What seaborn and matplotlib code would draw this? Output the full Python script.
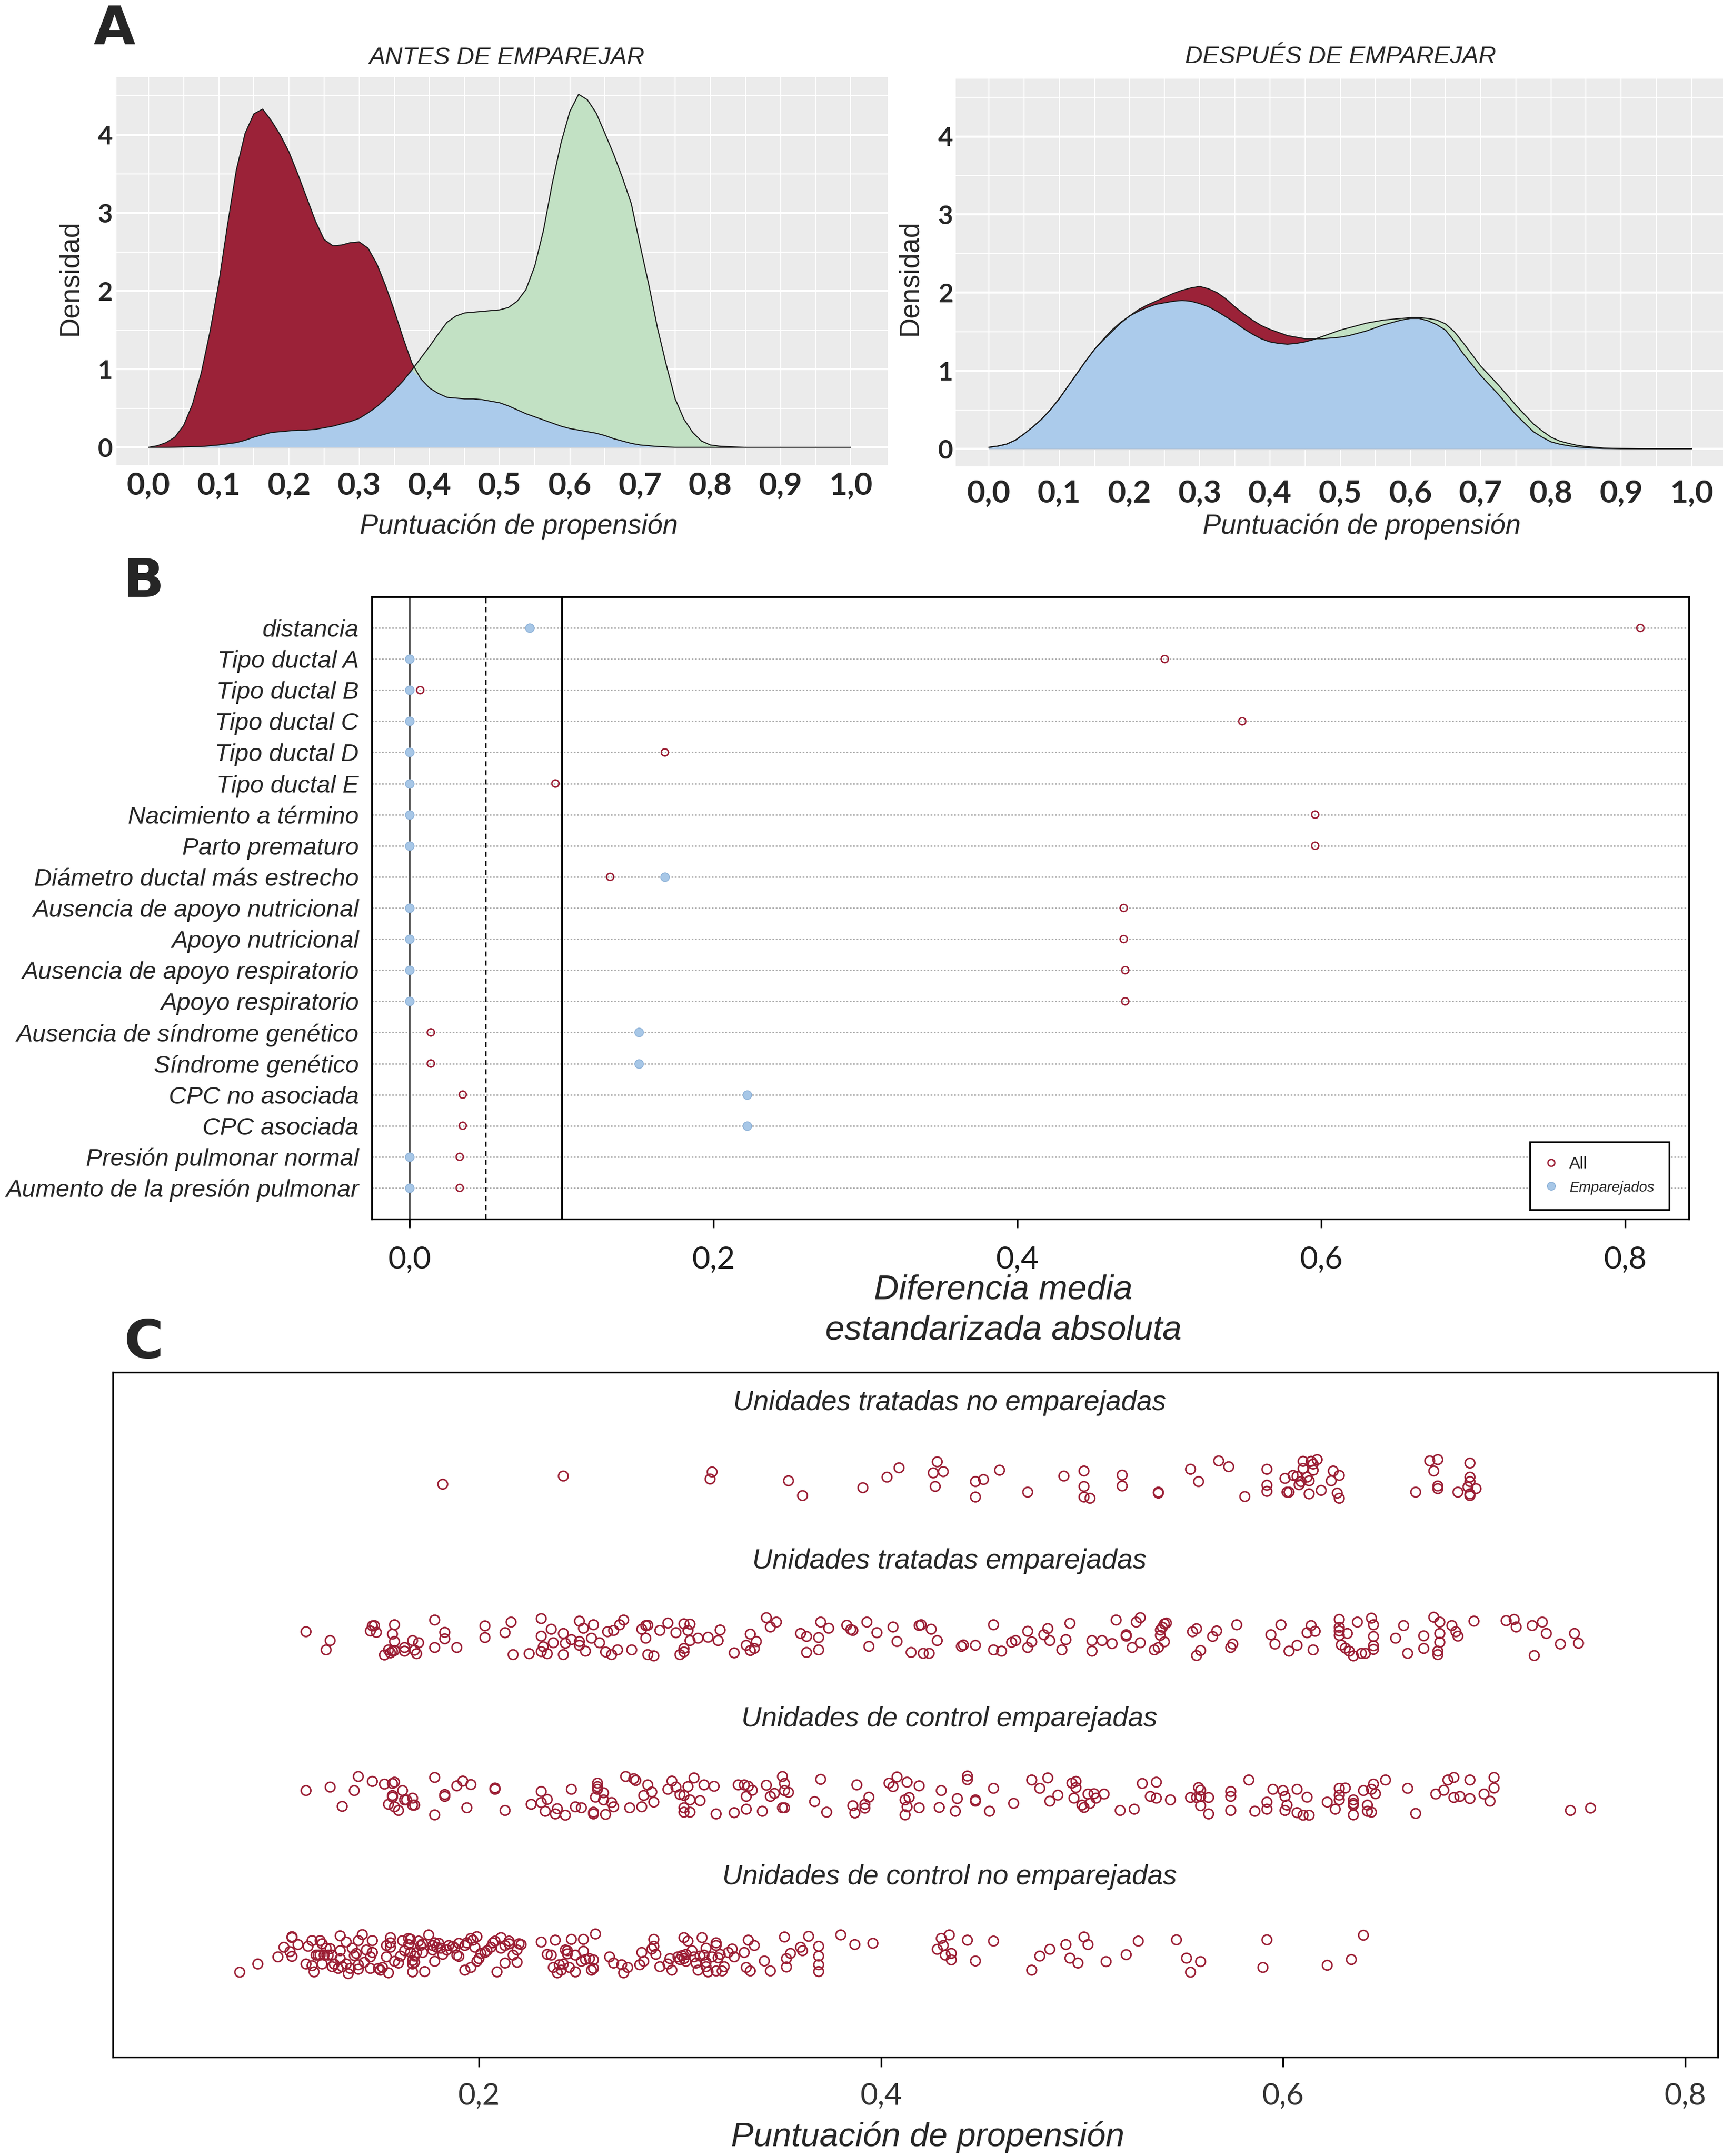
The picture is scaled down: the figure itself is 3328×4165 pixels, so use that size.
import numpy as np
import pandas as pd
import matplotlib
matplotlib.use("Agg")
import matplotlib.pyplot as plt
import seaborn as sns
from matplotlib.lines import Line2D

# ======================= DATA =======================
# Panel A: density curves
dens_x = [0.0, 0.0125, 0.025, 0.0375, 0.05, 0.0625, 0.075, 0.0875, 0.1, 0.1125,
          0.125, 0.1375, 0.15, 0.1625, 0.175, 0.1875, 0.2, 0.2125, 0.225, 0.2375,
          0.25, 0.2625, 0.275, 0.2875, 0.3, 0.3125, 0.325, 0.3375, 0.35, 0.3625,
          0.375, 0.3875, 0.4, 0.4125, 0.425, 0.4375, 0.45, 0.4625, 0.475, 0.4875,
          0.5, 0.5125, 0.525, 0.5375, 0.55, 0.5625, 0.575, 0.5875, 0.6, 0.6125,
          0.625, 0.6375, 0.65, 0.6625, 0.675, 0.6875, 0.7, 0.7125, 0.725, 0.7375,
          0.75, 0.7625, 0.775, 0.7875, 0.8, 0.8125, 0.825, 0.8375, 0.85,
          0.875, 0.9, 0.925, 0.95, 0.975, 1.0]
antes_control = [0.00, 0.02, 0.06, 0.13, 0.28, 0.55, 0.95, 1.48, 2.10, 2.85,
                 3.55, 4.02, 4.27, 4.33, 4.18, 4.00, 3.78, 3.50, 3.20, 2.90,
                 2.66, 2.58, 2.59, 2.62, 2.63, 2.55, 2.35, 2.07, 1.75, 1.40,
                 1.08, 0.88, 0.76, 0.69, 0.64, 0.63, 0.62, 0.62, 0.61, 0.59,
                 0.57, 0.53, 0.48, 0.43, 0.39, 0.35, 0.31, 0.27, 0.24, 0.22,
                 0.20, 0.18, 0.15, 0.11, 0.08, 0.05, 0.03, 0.02, 0.01, 0.005,
                 0.0, 0.0, 0.0, 0.0, 0.0, 0.0, 0.0, 0.0, 0.0,
                 0.0, 0.0, 0.0, 0.0, 0.0, 0.0]
antes_tratado = [0.00, 0.00, 0.00, 0.002, 0.005, 0.008, 0.01, 0.02, 0.03, 0.045,
                 0.06, 0.09, 0.13, 0.16, 0.19, 0.20, 0.21, 0.22, 0.22, 0.23,
                 0.25, 0.27, 0.30, 0.33, 0.37, 0.44, 0.52, 0.62, 0.73, 0.85,
                 0.99, 1.14, 1.29, 1.45, 1.60, 1.68, 1.72, 1.73, 1.74, 1.75,
                 1.76, 1.79, 1.87, 2.02, 2.32, 2.78, 3.38, 3.90, 4.30, 4.52,
                 4.45, 4.28, 4.02, 3.75, 3.45, 3.12, 2.59, 2.08, 1.52, 1.05,
                 0.62, 0.36, 0.19, 0.08, 0.03, 0.015, 0.008, 0.004, 0.0,
                 0.0, 0.0, 0.0, 0.0, 0.0, 0.0]
despues_control = [0.02, 0.035, 0.06, 0.11, 0.19, 0.28, 0.38, 0.50, 0.64, 0.80,
                   0.96, 1.12, 1.27, 1.39, 1.50, 1.61, 1.70, 1.78, 1.84, 1.89,
                   1.94, 1.99, 2.03, 2.06, 2.08, 2.05, 2.00, 1.92, 1.82, 1.73,
                   1.65, 1.58, 1.53, 1.49, 1.45, 1.43, 1.41, 1.41, 1.41, 1.42,
                   1.43, 1.45, 1.48, 1.51, 1.55, 1.59, 1.62, 1.65, 1.67, 1.67,
                   1.64, 1.59, 1.52, 1.38, 1.22, 1.08, 0.94, 0.82, 0.70, 0.57,
                   0.44, 0.33, 0.22, 0.15, 0.09, 0.06, 0.04, 0.025, 0.015,
                   0.005, 0.002, 0.0, 0.0, 0.0, 0.0]
despues_tratado = [0.02, 0.035, 0.06, 0.11, 0.19, 0.28, 0.38, 0.50, 0.64, 0.80,
                   0.96, 1.12, 1.27, 1.40, 1.52, 1.62, 1.70, 1.76, 1.81, 1.85,
                   1.87, 1.89, 1.90, 1.89, 1.86, 1.82, 1.76, 1.69, 1.62, 1.54,
                   1.47, 1.41, 1.37, 1.35, 1.34, 1.35, 1.37, 1.40, 1.44, 1.48,
                   1.52, 1.55, 1.58, 1.61, 1.63, 1.65, 1.66, 1.67, 1.68, 1.68,
                   1.67, 1.65, 1.60, 1.50, 1.36, 1.21, 1.06, 0.94, 0.82, 0.69,
                   0.56, 0.44, 0.32, 0.23, 0.15, 0.10, 0.07, 0.045, 0.03,
                   0.01, 0.004, 0.001, 0.0, 0.0, 0.0]
dens_xticks = [0.0, 0.1, 0.2, 0.3, 0.4, 0.5, 0.6, 0.7, 0.8, 0.9, 1.0]
dens_xticklabels = ["0,0", "0,1", "0,2", "0,3", "0,4", "0,5", "0,6", "0,7", "0,8", "0,9", "1,0"]
dens_yticks = [0, 1, 2, 3, 4]
dens_yticklabels = ["0", "1", "2", "3", "4"]

# Panel B: absolute standardized mean differences
smd_vars = ["distancia", "Tipo ductal A", "Tipo ductal B", "Tipo ductal C", "Tipo ductal D",
            "Tipo ductal E", "Nacimiento a término", "Parto prematuro",
            "Diámetro ductal más estrecho", "Ausencia de apoyo nutricional",
            "Apoyo nutricional", "Ausencia de apoyo respiratorio", "Apoyo respiratorio",
            "Ausencia de síndrome genético", "Síndrome genético", "CPC no asociada",
            "CPC asociada", "Presión pulmonar normal", "Aumento de la presión pulmonar"]
smd_all = [0.810, 0.497, 0.007, 0.548, 0.168, 0.096, 0.596, 0.596, 0.132, 0.470,
           0.470, 0.471, 0.471, 0.014, 0.014, 0.035, 0.035, 0.033, 0.033]
smd_matched = [0.079, 0.0, 0.0, 0.0, 0.0, 0.0, 0.0, 0.0, 0.168, 0.0,
               0.0, 0.0, 0.0, 0.151, 0.151, 0.222, 0.222, 0.0, 0.0]
smd_xticks = [0.0, 0.2, 0.4, 0.6, 0.8]
smd_xticklabels = ["0,0", "0,2", "0,4", "0,6", "0,8"]
smd_legend = ["All", "Emparejados"]

# Panel C: jitter plot, (propensity score, vertical jitter) pairs
jit_titles = ["Unidades tratadas no emparejadas", "Unidades tratadas emparejadas",
              "Unidades de control emparejadas", "Unidades de control no emparejadas"]
jit_tratadas_no_emp = [
    (0.182, -0.029), (0.242, 0.023), (0.316, 0.049), (0.315, 0.004), (0.354, -0.007), (0.361, -0.101),
    (0.391, -0.051), (0.403, 0.016), (0.409, 0.075), (0.428, 0.113), (0.426, 0.043), (0.431, 0.051),
    (0.427, -0.043), (0.447, -0.012), (0.451, 0.001), (0.447, -0.110), (0.459, 0.060), (0.473, -0.079),
    (0.491, 0.023), (0.501, 0.055), (0.501, -0.043), (0.501, -0.110), (0.504, -0.118), (0.520, 0.029),
    (0.520, -0.040), (0.538, -0.079), (0.538, -0.085), (0.554, 0.066), (0.558, -0.012), (0.568, 0.119),
    (0.573, 0.082), (0.581, -0.107), (0.592, 0.066), (0.592, -0.035), (0.592, -0.074), (0.601, 0.008),
    (0.602, -0.079), (0.603, -0.079), (0.605, 0.027), (0.607, 0.021), (0.608, -0.032), (0.609, -0.012),
    (0.610, 0.116), (0.610, 0.071), (0.612, 0.016), (0.613, -0.007), (0.613, -0.090), (0.614, 0.116),
    (0.615, 0.099), (0.615, 0.060), (0.617, 0.127), (0.619, -0.068), (0.624, -0.007), (0.625, 0.055),
    (0.627, -0.085), (0.628, 0.027), (0.628, -0.118), (0.666, -0.079), (0.673, 0.119), (0.677, 0.127),
    (0.675, 0.055), (0.677, -0.040), (0.677, -0.057), (0.687, -0.079), (0.693, 0.105), (0.693, 0.016),
    (0.693, -0.012), (0.692, -0.046), (0.693, -0.090), (0.696, -0.057), (0.693, -0.101)]
jit_tratadas_emp = [
    (0.114, 0.037), (0.126, -0.019), (0.124, -0.078), (0.146, 0.042), (0.147, 0.074), (0.148, 0.076),
    (0.149, 0.033), (0.157, 0.022), (0.158, 0.081), (0.158, -0.025), (0.155, -0.078), (0.153, -0.110),
    (0.156, -0.097), (0.157, -0.086), (0.158, -0.082), (0.163, -0.063), (0.163, -0.086), (0.167, -0.019),
    (0.168, -0.080), (0.169, -0.102), (0.170, -0.033), (0.178, 0.111), (0.178, -0.063), (0.183, 0.033),
    (0.183, -0.008), (0.189, -0.063), (0.203, 0.074), (0.203, 0.000), (0.213, 0.031), (0.216, 0.098),
    (0.217, -0.108), (0.225, -0.102), (0.231, 0.120), (0.231, 0.009), (0.232, -0.058), (0.231, -0.089),
    (0.234, -0.102), (0.236, 0.053), (0.237, -0.033), (0.242, 0.026), (0.242, -0.108), (0.243, -0.036),
    (0.246, -0.013), (0.250, 0.104), (0.250, -0.025), (0.250, -0.049), (0.252, 0.059), (0.253, -0.086),
    (0.257, 0.081), (0.256, -0.004), (0.260, -0.033), (0.263, -0.091), (0.264, 0.037), (0.266, -0.108),
    (0.267, 0.045), (0.269, -0.078), (0.270, 0.081), (0.272, 0.111), (0.276, -0.078), (0.281, 0.053),
    (0.283, -0.004), (0.283, 0.076), (0.284, 0.078), (0.284, -0.108), (0.287, -0.116), (0.290, 0.045),
    (0.294, 0.092), (0.298, 0.031), (0.300, -0.108), (0.302, -0.069), (0.302, -0.091), (0.302, 0.087),
    (0.305, 0.085), (0.304, 0.045), (0.305, -0.019), (0.309, -0.004), (0.314, 0.002), (0.319, -0.019),
    (0.320, 0.048), (0.327, -0.097), (0.333, -0.049), (0.335, 0.022), (0.335, -0.082), (0.337, -0.069),
    (0.338, -0.025), (0.343, 0.126), (0.345, 0.067), (0.348, 0.098), (0.360, 0.026), (0.363, 0.007),
    (0.363, -0.094), (0.369, 0.000), (0.369, -0.078), (0.370, 0.098), (0.374, 0.059), (0.383, 0.078),
    (0.385, 0.051), (0.386, 0.045), (0.394, -0.056), (0.393, 0.098), (0.398, 0.031), (0.406, 0.067),
    (0.408, -0.025), (0.415, -0.094), (0.419, 0.076), (0.420, 0.081), (0.421, -0.100), (0.424, -0.100),
    (0.425, 0.053), (0.428, -0.019), (0.440, -0.056), (0.441, -0.047), (0.447, -0.049), (0.456, 0.081),
    (0.456, -0.078), (0.460, -0.086),
    (0.465, -0.030), (0.467, -0.019), (0.473, 0.040), (0.473, -0.063), (0.475, -0.027), (0.481, 0.018),
    (0.483, 0.057), (0.484, -0.019), (0.490, -0.078), (0.492, -0.013), (0.494, 0.090), (0.505, -0.019),
    (0.505, -0.086), (0.510, -0.019), (0.515, -0.038), (0.517, 0.111), (0.522, 0.018), (0.522, 0.009),
    (0.525, -0.063), (0.527, 0.098), (0.529, 0.126), (0.529, -0.033), (0.536, -0.078), (0.538, -0.063),
    (0.539, 0.014), (0.539, 0.048), (0.540, 0.065), (0.541, 0.087), (0.542, 0.092), (0.541, -0.027),
    (0.555, 0.037), (0.557, 0.056), (0.557, -0.114), (0.559, -0.082), (0.565, 0.007), (0.567, 0.042),
    (0.574, -0.063), (0.575, -0.041), (0.577, 0.081), (0.594, 0.018), (0.596, -0.041), (0.599, 0.081),
    (0.603, -0.086), (0.607, -0.049), (0.612, 0.031), (0.614, 0.076), (0.615, -0.078), (0.616, 0.040),
    (0.628, 0.115), (0.628, 0.065), (0.628, 0.042), (0.628, 0.014), (0.629, -0.047), (0.631, -0.067),
    (0.632, 0.026), (0.633, -0.086), (0.635, -0.116), (0.637, 0.098), (0.639, -0.100), (0.641, -0.100),
    (0.644, 0.123), (0.645, 0.081), (0.645, 0.007), (0.645, -0.052), (0.645, -0.075), (0.656, -0.004),
    (0.660, 0.076), (0.662, -0.100), (0.670, 0.011), (0.670, -0.069), (0.675, 0.129), (0.677, -0.086),
    (0.677, -0.108), (0.678, 0.098), (0.678, 0.026), (0.678, -0.030), (0.684, 0.076), (0.686, 0.037),
    (0.687, 0.009), (0.695, 0.104), (0.711, 0.107), (0.715, 0.115), (0.716, 0.067), (0.724, 0.076),
    (0.725, -0.114), (0.729, 0.098), (0.731, 0.026), (0.738, -0.041), (0.745, 0.026), (0.747, -0.036)]
jit_control_emp = [
    (0.114, 0.031), (0.126, 0.053), (0.132, -0.069), (0.138, 0.031), (0.140, 0.120), (0.147, 0.089),
    (0.153, 0.072), (0.155, -0.056), (0.157, 0.076), (0.157, 0.000), (0.157, -0.011), (0.158, 0.084),
    (0.158, -0.072), (0.160, -0.095), (0.162, 0.031), (0.163, -0.028), (0.164, -0.028), (0.167, -0.017),
    (0.167, -0.061), (0.168, -0.061), (0.178, 0.114), (0.178, -0.123), (0.183, 0.006), (0.183, -0.006),
    (0.189, 0.061), (0.192, 0.091), (0.194, -0.078), (0.196, 0.069), (0.208, 0.039), (0.208, 0.047),
    (0.213, -0.095), (0.226, -0.056), (0.231, 0.025), (0.231, -0.045), (0.234, -0.025), (0.233, -0.100),
    (0.238, -0.117), (0.239, -0.084), (0.243, -0.125), (0.246, 0.039), (0.248, -0.072), (0.251, -0.078),
    (0.257, -0.106), (0.257, -0.117), (0.259, 0.078), (0.259, 0.056), (0.259, 0.039), (0.262, 0.017),
    (0.263, -0.120), (0.258, -0.011), (0.262, -0.028), (0.266, -0.045), (0.267, -0.072), (0.273, 0.120),
    (0.277, 0.106), (0.278, 0.095), (0.275, -0.078), (0.281, -0.072), (0.282, 0.000), (0.284, 0.067),
    (0.286, 0.022), (0.287, -0.042), (0.294, 0.039), (0.296, 0.091), (0.298, 0.053), (0.300, 0.006),
    (0.302, 0.000), (0.302, -0.078), (0.302, -0.106), (0.304, 0.056), (0.305, -0.028), (0.305, -0.106),
    (0.307, 0.111), (0.310, -0.033), (0.312, 0.067), (0.317, 0.058), (0.318, -0.117), (0.327, -0.109),
    (0.329, 0.067), (0.332, 0.067), (0.334, 0.058), (0.336, 0.033), (0.333, -0.006), (0.333, -0.087),
    (0.341, -0.100), (0.343, 0.065), (0.345, -0.006), (0.347, 0.013), (0.351, 0.120), (0.352, 0.076),
    (0.352, 0.031), (0.354, 0.020), (0.351, -0.078), (0.352, -0.078), (0.367, -0.039), (0.370, 0.102),
    (0.373, -0.106), (0.386, -0.065), (0.388, 0.067), (0.387, -0.111), (0.392, -0.056), (0.392, -0.080),
    (0.394, -0.011), (0.404, 0.078), (0.406, 0.056), (0.408, 0.117), (0.413, 0.084), (0.412, -0.028),
    (0.414, -0.013), (0.413, -0.072), (0.412, -0.123), (0.419, 0.061), (0.419, -0.078), (0.429, -0.076),
    (0.430, 0.031),
    (0.437, -0.100), (0.438, -0.020), (0.443, 0.123), (0.443, 0.100), (0.447, -0.028), (0.447, -0.036),
    (0.454, -0.100), (0.456, 0.045), (0.466, -0.050), (0.475, 0.098), (0.479, 0.045), (0.483, 0.111),
    (0.484, -0.036), (0.488, 0.002), (0.496, -0.017), (0.495, 0.078), (0.497, 0.089), (0.497, 0.050),
    (0.500, -0.061), (0.501, -0.076), (0.504, -0.050), (0.503, 0.009), (0.506, 0.011), (0.507, -0.017),
    (0.511, 0.009), (0.519, -0.095), (0.526, -0.087), (0.530, 0.076), (0.534, -0.006), (0.537, 0.084),
    (0.537, -0.017), (0.544, -0.028), (0.554, -0.013), (0.557, -0.013), (0.558, 0.050), (0.559, 0.033),
    (0.559, -0.006), (0.559, -0.065), (0.563, -0.013), (0.563, -0.117), (0.574, -0.006), (0.574, 0.025),
    (0.574, -0.095), (0.583, 0.098), (0.586, -0.100), (0.592, -0.042), (0.592, -0.087), (0.595, 0.039),
    (0.600, 0.031), (0.601, -0.095), (0.601, -0.006), (0.602, -0.061), (0.607, 0.039), (0.607, -0.109),
    (0.610, -0.125), (0.613, -0.125), (0.612, -0.011), (0.622, -0.042), (0.626, -0.087), (0.628, 0.002),
    (0.628, -0.028), (0.628, 0.045), (0.631, 0.047), (0.635, -0.028), (0.635, -0.061), (0.635, -0.050),
    (0.635, -0.123), (0.640, 0.031), (0.642, -0.061), (0.642, -0.100), (0.644, -0.106), (0.644, 0.039),
    (0.645, 0.072), (0.646, 0.011), (0.651, 0.098), (0.662, 0.045), (0.666, -0.114), (0.676, 0.009),
    (0.680, 0.033), (0.682, 0.098), (0.685, 0.114), (0.685, -0.013), (0.688, -0.006), (0.693, 0.098),
    (0.693, -0.020), (0.700, 0.009), (0.703, -0.036), (0.705, 0.114), (0.705, 0.047), (0.743, -0.095),
    (0.753, -0.080)]
jit_control_no_emp = [
    (0.081, -0.119), (0.090, -0.067), (0.100, -0.022), (0.103, 0.039), (0.106, 0.011), (0.107, -0.019),
    (0.107, 0.106), (0.107, 0.100), (0.110, 0.056), (0.114, -0.067), (0.115, 0.045), (0.117, 0.081),
    (0.117, -0.078), (0.118, -0.117), (0.119, -0.011), (0.120, -0.011), (0.121, 0.081), (0.121, -0.011),
    (0.122, 0.061), (0.122, -0.067), (0.123, -0.011), (0.124, 0.033), (0.125, -0.011), (0.126, 0.030),
    (0.127, -0.084), (0.127, -0.011), (0.128, -0.067), (0.130, -0.095), (0.131, 0.111), (0.131, 0.017),
    (0.131, -0.033), (0.132, -0.084), (0.134, 0.072), (0.134, -0.067), (0.135, -0.128), (0.136, -0.095),
    (0.137, 0.033), (0.138, -0.014), (0.139, 0.000), (0.140, -0.072), (0.140, -0.100), (0.140, 0.081),
    (0.142, 0.119), (0.143, -0.056), (0.144, 0.022), (0.146, -0.022), (0.146, -0.095), (0.147, 0.081),
    (0.147, 0.006), (0.150, -0.095), (0.151, -0.106), (0.152, -0.089), (0.154, -0.022), (0.154, 0.050),
    (0.155, -0.123), (0.156, 0.100), (0.156, 0.039), (0.156, 0.067), (0.158, -0.050), (0.160, -0.061),
    (0.161, -0.017), (0.162, 0.081), (0.163, 0.017), (0.165, 0.095), (0.165, 0.056), (0.166, 0.089),
    (0.166, 0.006), (0.167, -0.045), (0.167, -0.067), (0.167, -0.117), (0.168, -0.017), (0.168, -0.056),
    (0.169, 0.006), (0.170, 0.078), (0.171, 0.050), (0.172, 0.061), (0.172, 0.006), (0.173, -0.115),
    (0.175, 0.117), (0.177, 0.050), (0.177, 0.022), (0.178, -0.050), (0.178, 0.067), (0.179, 0.039),
    (0.180, 0.064), (0.181, 0.033), (0.182, -0.006), (0.184, 0.022), (0.185, 0.050), (0.187, 0.045),
    (0.188, 0.033), (0.189, -0.011), (0.190, -0.019), (0.190, 0.064), (0.193, 0.050), (0.193, -0.106),
    (0.194, 0.067), (0.196, 0.095), (0.196, -0.089), (0.197, 0.084), (0.198, 0.039), (0.199, -0.050),
    (0.199, 0.106), (0.200, -0.033), (0.201, 0.000), (0.203, 0.006), (0.204, 0.017), (0.206, 0.039),
    (0.207, 0.067), (0.208, 0.078), (0.209, -0.117), (0.211, 0.100), (0.211, 0.033), (0.213, -0.061),
    (0.213, 0.050), (0.215, 0.078), (0.215, 0.061), (0.217, -0.011), (0.219, 0.022), (0.219, -0.056),
    (0.220, 0.061), (0.221, 0.056), (0.231, 0.072), (0.234, -0.006), (0.236, -0.011), (0.237, -0.089),
    (0.238, 0.084), (0.239, -0.123), (0.240, -0.072), (0.241, -0.106), (0.242, -0.067), (0.243, 0.022),
    (0.244, -0.003), (0.244, 0.017), (0.245, -0.089), (0.246, 0.089), (0.248, -0.117), (0.248, -0.011),
    (0.251, -0.050), (0.252, 0.014), (0.252, 0.089), (0.253, -0.039), (0.255, -0.033), (0.256, -0.106),
    (0.257, -0.095), (0.257, -0.041), (0.258, 0.123), (0.265, -0.022), (0.267, -0.061), (0.271, -0.072),
    (0.272, -0.123), (0.274, -0.089), (0.280, -0.072), (0.281, 0.006), (0.282, -0.050), (0.286, 0.028),
    (0.287, 0.045), (0.287, 0.089), (0.288, -0.006), (0.290, -0.084), (0.294, -0.067), (0.295, -0.033),
    (0.296, -0.106), (0.299, -0.022), (0.300, -0.039), (0.301, -0.014), (0.302, -0.033), (0.302, 0.100),
    (0.303, -0.006), (0.303, -0.050), (0.304, 0.078), (0.306, 0.017), (0.307, -0.022), (0.308, -0.061),
    (0.309, -0.106), (0.310, -0.017), (0.311, 0.100), (0.312, -0.011), (0.313, 0.033), (0.313, -0.056),
    (0.313, -0.084), (0.314, -0.117), (0.316, -0.022), (0.318, -0.111), (0.318, 0.067), (0.318, 0.050),
    (0.319, -0.028), (0.320, -0.006), (0.321, -0.111), (0.322, -0.084), (0.324, 0.006), (0.326, 0.028),
    (0.327, -0.022), (0.332, 0.006), (0.333, -0.089), (0.334, 0.084), (0.335, -0.111), (0.337, 0.050),
    (0.342, -0.048), (0.345, -0.111), (0.352, 0.104), (0.353, -0.086), (0.353, -0.033), (0.355, 0.000),
    (0.360, 0.039), (0.361, 0.017), (0.364, 0.108), (0.369, 0.045), (0.369, -0.017), (0.369, -0.072),
    (0.369, -0.115),
    (0.380, 0.117), (0.387, 0.056), (0.396, 0.064), (0.428, 0.026), (0.430, 0.095), (0.431, 0.050),
    (0.432, -0.011), (0.434, 0.117), (0.435, 0.000), (0.435, -0.041), (0.443, 0.084), (0.447, -0.048),
    (0.456, 0.078), (0.475, -0.106), (0.479, -0.017), (0.484, 0.026), (0.492, 0.056), (0.494, -0.030),
    (0.498, -0.061), (0.501, 0.104), (0.503, 0.056), (0.512, -0.052), (0.522, -0.008), (0.528, 0.078),
    (0.547, 0.086), (0.552, -0.030), (0.554, -0.119), (0.559, -0.052), (0.590, -0.089), (0.592, 0.086),
    (0.622, -0.075), (0.634, -0.039), (0.640, 0.115)]
jit_xticks = [0.2, 0.4, 0.6, 0.8]
jit_xticklabels = ["0,2", "0,4", "0,6", "0,8"]

# ======================= STYLE =======================
sns.set_style("white")
plt.rcParams['font.family'] = ['Liberation Sans', 'DejaVu Sans']

RED_F = "#9B2238"
GREEN_F = "#C2E1C4"
BLUE_F = "#ABCBEB"
BG = "#EBEBEB"
RED_P = "#9B1E34"
BLUE_P = "#A7C7E7"
BLUE_E = "#8EB2D8"
TICKFONT = ['Lato', 'DejaVu Sans']

W, H = 3329, 4165
DPI = 300
fig = plt.figure(figsize=(W / DPI, H / DPI), dpi=DPI)


def rect(x0, y0, x1, y1):
    return [x0 / W, 1 - y1 / H, (x1 - x0) / W, (y1 - y0) / H]


def ftext(x, y, s, **kw):
    fig.text(x / W, 1 - y / H, s, **kw)


# ======================= PANEL A =======================
def density_panel(r, xlim, control, treated, xpad, ypad):
    ax = fig.add_axes(r)
    ax.set_facecolor(BG)
    for s in ax.spines.values():
        s.set_visible(False)
    x = np.array(dens_x)
    c = np.array(control)
    t = np.array(treated)
    ax.fill_between(x, 0, c, color=RED_F, lw=0, zorder=2)
    ax.fill_between(x, 0, t, color=GREEN_F, lw=0, zorder=2)
    ax.fill_between(x, 0, np.minimum(c, t), color=BLUE_F, lw=0, zorder=3)
    sns.lineplot(x=x, y=c, ax=ax, color="#1a1a1a", lw=0.5, zorder=4)
    sns.lineplot(x=x, y=t, ax=ax, color="#1a1a1a", lw=0.5, zorder=4)
    ax.set_xlim(*xlim)
    ax.set_ylim(-0.225, 4.74)
    ax.set_xticks(dens_xticks)
    ax.set_xticklabels(dens_xticklabels, fontfamily=TICKFONT, fontweight='bold', fontsize=14.5)
    ax.set_xticks(np.array(dens_xticks[:-1]) + 0.05, minor=True)
    ax.set_yticks(dens_yticks)
    ax.set_yticklabels(dens_yticklabels, fontfamily=TICKFONT, fontweight='bold', fontsize=12)
    ax.set_yticks(np.array(dens_yticks) + 0.5, minor=True)
    ax.grid(which='major', axis='y', color='white', lw=1.0)
    ax.grid(which='minor', axis='y', color='white', lw=0.5)
    ax.grid(which='both', axis='x', color='white', lw=0.5)
    ax.set_axisbelow(True)
    ax.tick_params(which='both', length=0)
    ax.tick_params(axis='x', pad=xpad)
    ax.tick_params(axis='y', pad=ypad)
    ax.set_xlabel("")
    ax.set_ylabel("")
    return ax


axA1 = density_panel(rect(225, 149, 1715, 898), (-0.0457, 1.053), antes_control, antes_tratado, 3.2, 1.8)
axA2 = density_panel(rect(1846, 152, 3329, 901), (-0.0472, 1.0457), despues_control, despues_tratado, 6.0, 1.3)

ftext(979, 112, "ANTES DE EMPAREJAR", ha='center', va='center', fontstyle='italic', fontsize=11.3)
ftext(2589, 110, "DESPUÉS DE EMPAREJAR", ha='center', va='center', fontstyle='italic', fontsize=11.3)
ftext(1002, 1031, "Puntuación de propensión", ha='center', va='baseline', fontstyle='italic', fontsize=12.7)
ftext(2630, 1031, "Puntuación de propensión", ha='center', va='baseline', fontstyle='italic', fontsize=12.7)
ftext(135, 536, "Densidad", ha='center', va='center', rotation=90, fontsize=12.7)
ftext(1757, 536, "Densidad", ha='center', va='center', rotation=90, fontsize=12.7)

# ======================= PANEL B =======================
axB = fig.add_axes(rect(718, 1153, 3262, 2355))
ypos = list(range(len(smd_vars), 0, -1))
dfB = pd.DataFrame({"var": smd_vars, "y": ypos, "all": smd_all, "matched": smd_matched})
for yv in ypos:
    axB.axhline(yv, color="#a8a8a8", lw=0.6, ls=(0, (1.3, 1.3)), zorder=1)
axB.axvline(0.0, color="#555555", lw=0.8, zorder=2)
axB.axvline(0.05, color="black", lw=0.6, ls=(0, (4, 3)), zorder=2)
axB.axvline(0.1, color="black", lw=0.8, zorder=2)
sns.scatterplot(data=dfB, x="matched", y="y", ax=axB, s=16, color=BLUE_P,
                edgecolor=BLUE_E, linewidth=0.4, zorder=5, legend=False)
sns.scatterplot(data=dfB, x="all", y="y", ax=axB, s=11, color=RED_P, facecolor='none',
                edgecolor=RED_P, linewidth=0.65, zorder=6, legend=False)
axB.set_xlim(-0.0249, 0.8419)
axB.set_ylim(0, 20)
axB.set_yticks(ypos)
axB.set_yticklabels(smd_vars, fontstyle='italic', fontsize=11.3)
axB.set_xticks(smd_xticks)
axB.set_xticklabels(smd_xticklabels, fontfamily=TICKFONT, fontsize=14.5, color="#1e1e1e")
axB.tick_params(axis='y', length=0, pad=6)
axB.tick_params(axis='x', direction='out', length=4, width=0.8, color='black', pad=8.5, bottom=True)
for s in axB.spines.values():
    s.set_visible(True)
    s.set_color('black')
    s.set_linewidth(0.8)
axB.set_xlabel("")
axB.set_ylabel("")

handles = [Line2D([], [], ls='none', marker='o', ms=3.2, mfc='none', mec=RED_P, mew=0.65),
           Line2D([], [], ls='none', marker='o', ms=3.7, mfc=BLUE_P, mec=BLUE_E, mew=0.4)]
leg = axB.legend(handles, smd_legend, loc='lower right', bbox_to_anchor=(0.985, 0.015),
                 bbox_transform=axB.transAxes, frameon=True, fancybox=False, edgecolor='black',
                 fontsize=7.6, borderpad=0.9, handlelength=0.8, handletextpad=0.7,
                 labelspacing=0.5, borderaxespad=0, framealpha=1)
leg.get_frame().set_linewidth(0.8)
leg.get_texts()[1].set_fontstyle('italic')
leg.get_texts()[1].set_fontsize(6.7)

ftext(1938, 2509, "Diferencia media", ha='center', va='baseline', fontstyle='italic', fontsize=16)
ftext(1938, 2587, "estandarizada absoluta", ha='center', va='baseline', fontstyle='italic', fontsize=16)

# ======================= PANEL C =======================
axC = fig.add_axes(rect(218, 2651, 3318, 3974))
rows = [jit_tratadas_no_emp, jit_tratadas_emp, jit_control_emp, jit_control_no_emp]
row_levels = [4, 3, 2, 1]
frames = []
for lvl, pts in zip(row_levels, rows):
    arr = np.array(pts)
    frames.append(pd.DataFrame({"ps": arr[:, 0], "y": lvl + arr[:, 1]}))
dfC = pd.concat(frames, ignore_index=True)
sns.scatterplot(data=dfC, x="ps", y="y", ax=axC, s=20, color=RED_P, facecolor='none',
                edgecolor=RED_P, linewidth=0.7, legend=False)
for lvl, title in zip(row_levels, jit_titles):
    axC.text(0.434, lvl + 0.485, title, ha='center', va='center', fontstyle='italic', fontsize=12.9)
axC.set_xlim(0.0179, 0.8163)
axC.set_ylim(0.343, 4.68)
axC.set_yticks([])
axC.set_xticks(jit_xticks)
axC.set_xticklabels(jit_xticklabels, fontfamily=TICKFONT, fontsize=14, color="#333333")
axC.tick_params(axis='x', direction='out', length=4.5, width=0.8, color='black', pad=7, bottom=True)
for s in axC.spines.values():
    s.set_visible(True)
    s.set_color('black')
    s.set_linewidth(0.8)
axC.set_xlabel("")
axC.set_ylabel("")
ftext(1792, 4146, "Puntuación de propensión", ha='center', va='baseline', fontstyle='italic', fontsize=15.7)

# ======================= PANEL LETTERS =======================
for letter, x, y in [("A", 180, 86), ("B", 238, 1153), ("C", 240, 2624)]:
    ftext(x, y, letter, ha='left', va='baseline', fontsize=25, fontweight='bold',
          fontfamily=['DejaVu Sans'])

fig.savefig("out.png", dpi=DPI)
